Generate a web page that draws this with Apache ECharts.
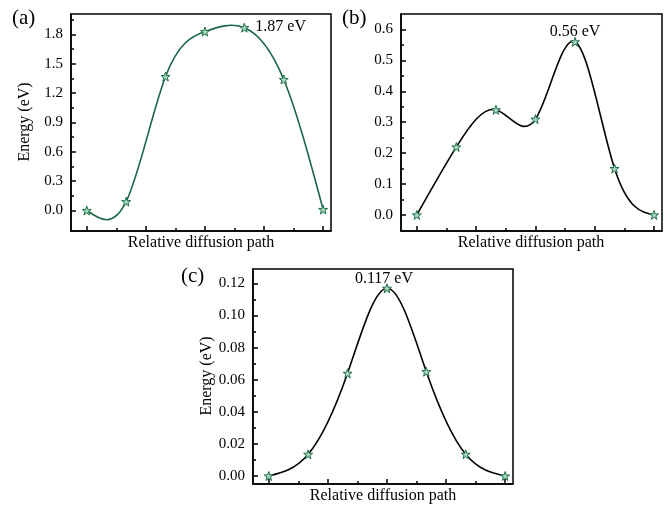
<!DOCTYPE html>
<html>
<head>
<meta charset="utf-8">
<script src="https://cdn.jsdelivr.net/npm/echarts@6/dist/echarts.min.js"></script>
<style>html,body{margin:0;padding:0;background:#fff}#c{width:667px;height:507px}</style>
</head>
<body>
<div id="c"></div>
<script>
// ---- data ----
var pathIndex = [0, 1, 2, 3, 4, 5, 6];
var energyA = [0.0, 0.09, 1.37, 1.83, 1.87, 1.34, 0.01];
var energyB = [0.0, 0.22, 0.34, 0.31, 0.56, 0.15, 0.0];
var energyC = [0.0, 0.0135, 0.064, 0.117, 0.065, 0.0135, 0.0];
var barrierA = '1.87 eV', barrierB = '0.56 eV', barrierC = '0.117 eV';
var peakIdxA = 4, peakIdxB = 4, peakIdxC = 3;
var xMajor = [0, 1.5, 3, 4.5, 6];
var xMinor = [0.75, 2.25, 3.75, 5.25];
var yMajorA = [0, 0.3, 0.6, 0.9, 1.2, 1.5, 1.8];
var yMinorA = [0.15, 0.45, 0.75, 1.05, 1.35, 1.65, 1.95];
var yMajorB = [0, 0.1, 0.2, 0.3, 0.4, 0.5, 0.6];
var yMinorB = [0.05, 0.15, 0.25, 0.35, 0.45, 0.55];
var yMajorC = [0, 0.02, 0.04, 0.06, 0.08, 0.10, 0.12];
var yMinorC = [0.01, 0.03, 0.05, 0.07, 0.09, 0.11];

var FONT = 'Liberation Serif';
var STAR = 'path://M50 0L61.8 35.1L97.6 34.5L69.1 56.7L79.4 90.5L50 70L20.6 90.5L30.9 56.7L2.4 34.5L38.2 35.1Z';

// natural cubic spline through the data points (second derivatives)
function splineM(xs, ys) {
  var n = xs.length, M = new Array(n).fill(0);
  if (n < 3) return M;
  var a = [], b = [], c = [], d = [];
  for (var i = 1; i < n - 1; i++) {
    var h0 = xs[i] - xs[i - 1], h1 = xs[i + 1] - xs[i];
    a.push(h0); b.push(2 * (h0 + h1)); c.push(h1);
    d.push(6 * ((ys[i + 1] - ys[i]) / h1 - (ys[i] - ys[i - 1]) / h0));
  }
  var m = b.length;
  for (var k = 1; k < m; k++) {
    var w = a[k] / b[k - 1];
    b[k] -= w * c[k - 1]; d[k] -= w * d[k - 1];
  }
  var sol = new Array(m);
  sol[m - 1] = d[m - 1] / b[m - 1];
  for (var k2 = m - 2; k2 >= 0; k2--) sol[k2] = (d[k2] - c[k2] * sol[k2 + 1]) / b[k2];
  for (var j = 0; j < m; j++) M[j + 1] = sol[j];
  return M;
}

function splineSeries(xs, ys, xi, yi, color) {
  var M = splineM(xs, ys);
  return {
    type: 'custom', xAxisIndex: xi, yAxisIndex: yi, z: 2, silent: true, clip: false,
    data: xs.map(function (x, i) { return [x, ys[i]]; }),
    renderItem: function (params, api) {
      var i = params.dataIndex;
      if (i >= xs.length - 1) return null;
      var h = xs[i + 1] - xs[i];
      var sl = (ys[i + 1] - ys[i]) / h;
      var s0 = sl - h * (2 * M[i] + M[i + 1]) / 6;
      var s1 = sl + h * (M[i] + 2 * M[i + 1]) / 6;
      var p0 = api.coord([xs[i], ys[i]]);
      var p1 = api.coord([xs[i + 1], ys[i + 1]]);
      var c0 = api.coord([xs[i] + h / 3, ys[i] + s0 * h / 3]);
      var c1 = api.coord([xs[i + 1] - h / 3, ys[i + 1] - s1 * h / 3]);
      return {
        type: 'bezierCurve',
        shape: { x1: p0[0], y1: p0[1], x2: p1[0], y2: p1[1], cpx1: c0[0], cpy1: c0[1], cpx2: c1[0], cpy2: c1[1] },
        style: { stroke: color, lineWidth: 1.6, fill: 'none' }
      };
    }
  };
}

function pts(ys, peak, label, pos, off) {
  return pathIndex.map(function (x, i) {
    var d = { value: [x, ys[i]] };
    if (i === peak) {
      d.label = { show: true, formatter: label, position: pos, distance: 0, offset: off,
        fontFamily: FONT, fontSize: 16, color: '#000' };
    }
    return d;
  });
}

var grids = [
  { left: 71, top: 14, width: 260, height: 217 },
  { left: 401, top: 14, width: 261, height: 217 },
  { left: 253, top: 269, width: 260, height: 215 }
];
grids.forEach(function (g) { g.show = true; g.borderColor = '#000'; g.borderWidth = 1.5; g.backgroundColor = 'transparent'; });
var yRanges = [[-0.21, 2.01], [-0.052, 0.65], [-0.005, 0.129]];
var yMaj = [yMajorA, yMajorB, yMajorC];
var yMin = [yMinorA, yMinorB, yMinorC];
var yDec = [1, 1, 2];

var xAxes = [], yAxes = [];
grids.forEach(function (g, k) {
  xAxes.push({
    type: 'value', gridIndex: k, min: -0.4, max: 6.2, position: 'bottom',
    axisLine: { show: true, onZero: false, lineStyle: { color: '#000', width: 1.5 } }, splitLine: { show: false },
    axisTick: { show: true, inside: true, length: 5, customValues: xMajor, lineStyle: { color: '#000', width: 1.5 } },
    axisLabel: { show: false }
  });
  xAxes.push({
    type: 'value', gridIndex: k, min: -0.4, max: 6.2, position: 'bottom',
    axisLine: { show: false, onZero: false }, splitLine: { show: false },
    axisTick: { show: true, inside: true, length: 3, customValues: xMinor, lineStyle: { color: '#000', width: 1.5 } },
    axisLabel: { show: false }
  });
  yAxes.push({
    type: 'value', gridIndex: k, min: yRanges[k][0], max: yRanges[k][1], position: 'left',
    axisLine: { show: true, onZero: false, lineStyle: { color: '#000', width: 1.5 } }, splitLine: { show: false },
    axisTick: { show: true, inside: true, length: 5, customValues: yMaj[k], lineStyle: { color: '#000', width: 1.5 } },
    axisLabel: { show: true, customValues: yMaj[k], margin: 8, fontFamily: FONT, fontSize: 15, color: '#000',
      formatter: (function (dec) { return function (v) { return Number(v).toFixed(dec); }; })(yDec[k]) }
  });
  yAxes.push({
    type: 'value', gridIndex: k, min: yRanges[k][0], max: yRanges[k][1], position: 'left',
    axisLine: { show: false, onZero: false }, splitLine: { show: false },
    axisTick: { show: true, inside: true, length: 3, customValues: yMin[k], lineStyle: { color: '#000', width: 1.5 } },
    axisLabel: { show: false }
  });
});

var markerStyle = { color: '#a8d5bd', borderColor: '#1d7049', borderWidth: 1, opacity: 1 };
function markers(xi, yi, ys, peak, label, pos, off) {
  return { type: 'scatter', xAxisIndex: xi, yAxisIndex: yi, z: 3,
    data: pts(ys, peak, label, pos, off),
    symbol: STAR, symbolSize: 9, itemStyle: markerStyle };
}

var T = { fontFamily: FONT, fontSize: 16, fill: '#000' };
function txt(s, x, y, rot) {
  return { type: 'text', x: x, y: y, rotation: rot || 0,
    style: Object.assign({ text: s, align: 'center', verticalAlign: 'middle' }, T) };
}

var option = {
  animation: false,
  grid: grids,
  xAxis: xAxes,
  yAxis: yAxes,
  graphic: [
    { type: 'text', left: 12, top: 8, style: { text: '(a)', fontFamily: FONT, fontSize: 21, fill: '#000' } },
    { type: 'text', left: 342, top: 8, style: { text: '(b)', fontFamily: FONT, fontSize: 21, fill: '#000' } },
    { type: 'text', left: 181, top: 266, style: { text: '(c)', fontFamily: FONT, fontSize: 21, fill: '#000' } },
    txt('Relative diffusion path', 201, 243),
    txt('Relative diffusion path', 531, 243),
    txt('Relative diffusion path', 383, 496),
    txt('Energy (eV)', 25, 122, Math.PI / 2),
    txt('Energy (eV)', 207, 376, Math.PI / 2)
  ],
  series: [
    splineSeries(pathIndex, energyA, 0, 0, '#1a6543'),
    markers(0, 0, energyA, peakIdxA, barrierA, 'right', [6, -1]),
    splineSeries(pathIndex, energyB, 2, 2, '#000'),
    markers(2, 2, energyB, peakIdxB, barrierB, 'top', [0, 3]),
    splineSeries(pathIndex, energyC, 4, 4, '#000'),
    markers(4, 4, energyC, peakIdxC, barrierC, 'top', [-3, 4])
  ]
};
echarts.init(document.getElementById('c')).setOption(option);
</script>
</body>
</html>
